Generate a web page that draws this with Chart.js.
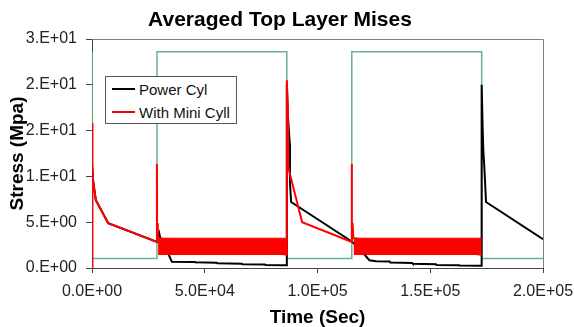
<!DOCTYPE html>
<html lang="en">
<head>
    <meta charset="UTF-8">
    <title>Averaged Top Layer Mises</title>
    <style>
        body {
            margin: 0;
            background: #fff;
            font-family: "Liberation Sans", Arial, sans-serif;
        }

        .wrap {
            position: relative;
            width: 574px;
            height: 327px;
        }

        #legend {
            position: absolute;
            left: 105px;
            top: 76px;
            width: 132px;
            height: 48px;
            box-sizing: border-box;
            border: 1px solid #555;
            background: #fff;
        }

        .item {
            position: absolute;
            left: 6px;
            height: 16px;
            display: flex;
            align-items: center;
            font-size: 15px;
            color: #111;
            white-space: nowrap;
        }

        .swatch {
            width: 23px;
            height: 2px;
            margin-right: 4px;
        }
    </style>
    <script src="https://cdn.jsdelivr.net/npm/chart.js"></script>
</head>
<body>
    <div class="wrap">
        <canvas id="misesChart" width="574" height="327"></canvas>
        <div id="legend">
            <div class="item" style="top:4px"><div class="swatch" style="background:#000"></div>Power Cyl</div>
            <div class="item" style="top:27px"><div class="swatch" style="background:#f00"></div>With Mini Cyll</div>
        </div>
    </div>

    <script>
        // axis ticks (Excel "0.E+00" style labels)
        const xTickLabels = ['0.0E+00', '5.0E+04', '1.0E+05', '1.5E+05', '2.0E+05'];
        const yTickLabels = ['0.E+00', '5.E+00', '1.E+01', '2.E+01', '2.E+01', '3.E+01'];

        // green on/off cycle trace
        const cycleTime = [0, 0, 28800, 28800, 86400, 86400, 115200, 115200, 172800, 172800, 200000];
        const cycleStress = [23.6, 1.05, 1.05, 23.6, 23.6, 1.05, 1.05, 23.6, 23.6, 1.05, 1.05];

        // Power Cyl
        const powerTime = [0, 0, 200, 500, 1700, 7200, 28800, 29800, 30200, 34100, 35400, 45700, 46000,
            55300, 55600, 66400, 66700, 76700, 77000, 86400, 86400, 86900, 87700, 87800, 88300, 115200,
            115900, 121000, 123000, 126000, 132000, 132300, 142000, 142300, 152500, 152800, 162800, 163100,
            172800, 172800, 173270, 173540, 173980, 174740, 200000];
        const powerStress = [0, 15.8, 11.2, 9.5, 7.4, 4.9, 2.85, 3.8, 3.35, 1.4, 0.69, 0.66, 0.62,
            0.58, 0.51, 0.47, 0.40, 0.37, 0.33, 0.31, 20.0, 16.5, 13.6, 9.3, 7.2, 2.9,
            2.73, 1.42, 0.85, 0.74, 0.70, 0.60, 0.55, 0.46, 0.42, 0.33, 0.30, 0.27,
            0.25, 20.0, 15.0, 12.8, 11.0, 7.2, 3.15];

        // With Mini Cyll
        const miniTime = [0, 0, 200, 500, 1700, 7200, 28800, 28800, 28850, 29150, 29300, 86400,
            86400, 86900, 87000, 93200, 115200, 115200, 115250, 115550, 115900, 172800];
        const miniStress = [0, 15.8, 11.2, 9.5, 7.4, 4.9, 2.85, 11.35, 2.9, 4.9, 3.25, 1.45,
            20.5, 16.9, 11.0, 5.0, 2.85, 11.35, 2.9, 4.9, 3.25, 1.45];

        // dense oscillation of the mini cyl trace, drawn as a filled band
        const bandTimeA = [29300, 86400];
        const bandTimeB = [116000, 172800];
        const bandHigh = 3.25;
        const bandLow = 1.42;

        const toPoints = (xs, ys) => xs.map((x, i) => ({ x: x, y: ys[i] }));
        const bandPoints = xs => xs.map(x => ({ x: x, y: bandHigh }));

        const plotFrame = {
            id: 'plotFrame',
            beforeDatasetsDraw(chart) {
                const { ctx, chartArea: a } = chart;
                ctx.save();
                ctx.strokeStyle = '#808080';
                ctx.lineWidth = 1;
                ctx.beginPath();
                ctx.moveTo(a.left, a.top + 0.5);
                ctx.lineTo(a.right + 0.5, a.top + 0.5);
                ctx.lineTo(a.right + 0.5, a.bottom);
                ctx.stroke();
                ctx.restore();
            }
        };

        Chart.defaults.font.family = '"Liberation Sans", Arial, sans-serif';
        Chart.defaults.color = '#222';

        const lineStyle = { pointRadius: 0, tension: 0, fill: false };

        new Chart(document.getElementById('misesChart').getContext('2d'), {
            type: 'line',
            data: {
                datasets: [
                    Object.assign({ label: 'Cycle', data: toPoints(cycleTime, cycleStress),
                        borderColor: 'rgb(100,180,140)', borderWidth: 1.5, order: 3 }, lineStyle),
                    Object.assign({ label: 'Power Cyl', data: toPoints(powerTime, powerStress),
                        borderColor: '#000', borderWidth: 2, order: 2 }, lineStyle),
                    { label: 'band A', data: bandPoints(bandTimeA), borderColor: '#f00', borderWidth: 1,
                        backgroundColor: '#f00', pointRadius: 0, fill: { value: bandLow }, order: 1 },
                    { label: 'band B', data: bandPoints(bandTimeB), borderColor: '#f00', borderWidth: 1,
                        backgroundColor: '#f00', pointRadius: 0, fill: { value: bandLow }, order: 1 },
                    Object.assign({ label: 'With Mini Cyll', data: toPoints(miniTime, miniStress),
                        borderColor: '#f00', borderWidth: 2, order: 0 }, lineStyle)
                ]
            },
            options: {
                responsive: false,
                animation: false,
                events: [],
                layout: { padding: { left: 17, right: 31, top: 0, bottom: 0 } },
                plugins: {
                    legend: { display: false },
                    tooltip: { enabled: false },
                    title: {
                        display: true,
                        text: 'Averaged Top Layer Mises',
                        color: '#000',
                        font: { size: 21, weight: 'bold', lineHeight: 1.2 },
                        padding: { top: 7.4, bottom: 6.4 }
                    }
                },
                scales: {
                    x: {
                        type: 'linear',
                        min: 0,
                        max: 200000,
                        afterFit: s => { s.height = 59; s.paddingLeft = 0; s.paddingRight = 0; },
                        grid: { display: true, drawOnChartArea: false, drawTicks: true, tickLength: 5, color: '#444' },
                        border: { display: true, color: '#444' },
                        ticks: {
                            stepSize: 50000,
                            maxRotation: 0,
                            autoSkip: false,
                            padding: 9,
                            font: { size: 16 },
                            callback: (v, i) => xTickLabels[i]
                        },
                        title: {
                            display: true,
                            text: 'Time (Sec)',
                            color: '#000',
                            font: { size: 19, weight: 'bold', lineHeight: 1 },
                            padding: { top: 0, bottom: 0 }
                        }
                    },
                    y: {
                        min: 0,
                        max: 25,
                        afterFit: s => { s.width = 75; s.paddingTop = 0; s.paddingBottom = 0; },
                        grid: { display: true, drawOnChartArea: false, drawTicks: true, tickLength: 6, color: '#444' },
                        border: { display: true, color: '#444' },
                        ticks: {
                            stepSize: 5,
                            padding: 9,
                            font: { size: 16 },
                            callback: (v, i) => yTickLabels[i]
                        },
                        title: {
                            display: true,
                            text: 'Stress (Mpa)',
                            color: '#000',
                            font: { size: 19, weight: 'bold', lineHeight: 1 },
                            padding: { top: -9, bottom: 0 }
                        }
                    }
                }
            },
            plugins: [plotFrame]
        });
    </script>
</body>
</html>
